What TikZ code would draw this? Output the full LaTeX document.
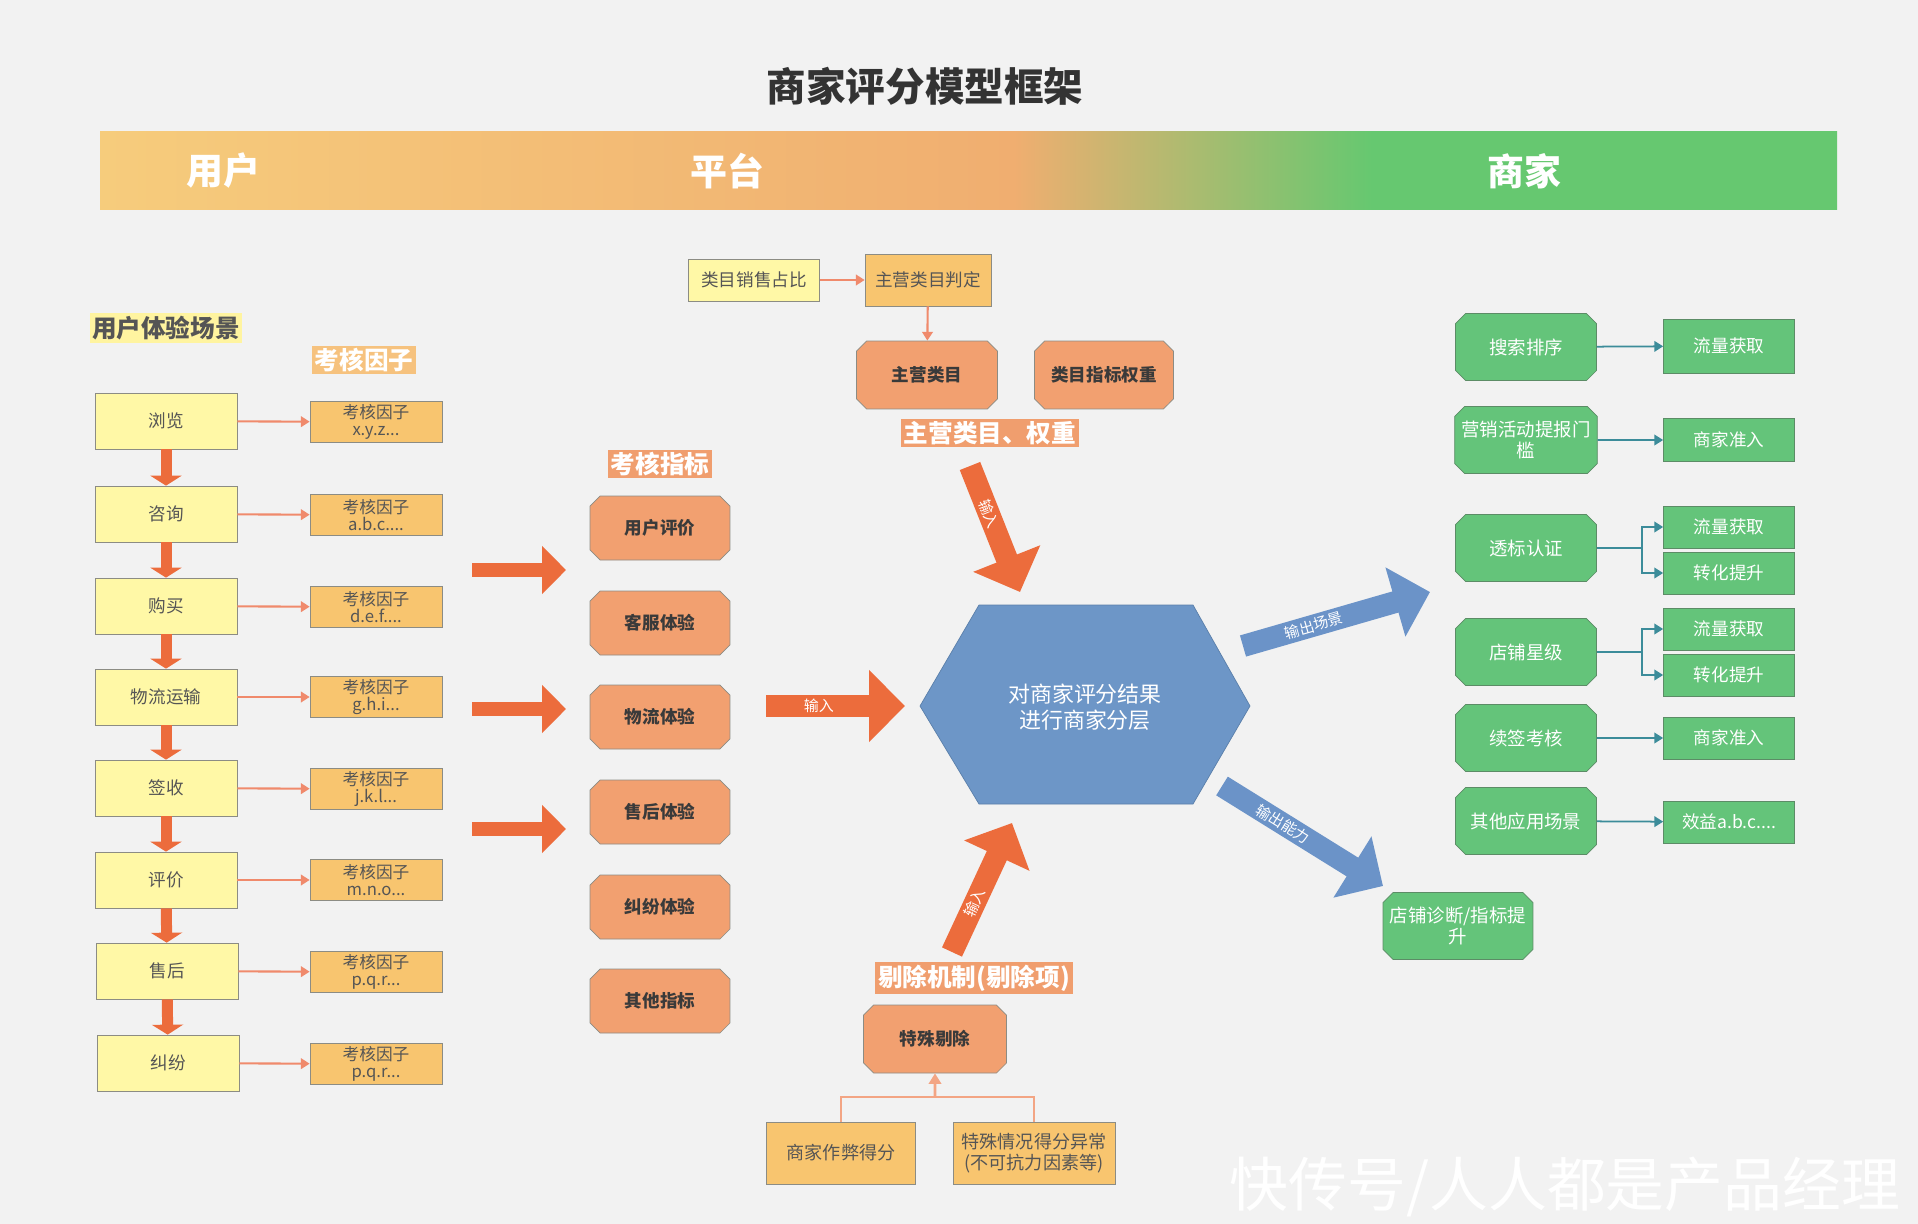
\documentclass[tikz,border=0pt]{standalone}
\usepackage{fontspec}
\setmainfont{Noto Sans CJK SC}
\usetikzlibrary{arrows.meta,shapes.misc}

\definecolor{bgc}{HTML}{F2F2F2}
\definecolor{titlec}{HTML}{333333}
\definecolor{txtc}{HTML}{555555}
\definecolor{darkc}{HTML}{3A3A3A}
\definecolor{edgec}{HTML}{8C8C84}
\definecolor{yelc}{HTML}{FFF8A6}
\definecolor{ambc}{HTML}{F8C56F}
\definecolor{salc}{HTML}{F2A070}
\definecolor{tagy}{HTML}{FFF4A0}
\definecolor{tago}{HTML}{F6C27E}
\definecolor{tags}{HTML}{F09E6E}
\definecolor{arrc}{HTML}{EC6C3C}
\definecolor{linkc}{HTML}{F08A6C}
\definecolor{treec}{HTML}{F3A584}
\definecolor{grnc}{HTML}{64C47A}
\definecolor{gedgec}{HTML}{5C8C66}
\definecolor{tealc}{HTML}{3C8C9A}
\definecolor{bluec}{HTML}{6D96C7}
\definecolor{bedgec}{HTML}{5A7FAA}
\definecolor{barc}{HTML}{6B93C8}
\definecolor{ban1}{HTML}{F6CC7C}
\definecolor{ban2}{HTML}{F0AE70}
\definecolor{ban3}{HTML}{66C870}
\pgfdeclarehorizontalshading{bannershade}{100bp}{color(0bp)=(ban1); color(25bp)=(ban1); color(51.3bp)=(ban2); color(61.6bp)=(ban3); color(75bp)=(ban3); color(100bp)=(ban3)}

\begin{document}
\begin{tikzpicture}[x=0.02cm, y=-0.02cm,
  scene/.style={draw=edgec, fill=yelc, text=txtc, minimum width=2.84cm, minimum height=1.12cm, font=\fontsize{10}{12}\selectfont},
  factor/.style={draw=edgec, fill=ambc, text=txtc, minimum width=2.64cm, minimum height=0.82cm, inner sep=1pt, align=center, font=\fontsize{9.5}{9.5}\selectfont},
  metric/.style={chamfered rectangle, chamfered rectangle sep=0.1cm, draw=edgec, fill=salc, text=darkc, minimum width=2.8cm, minimum height=1.28cm, font=\bfseries\fontsize{10}{12}\selectfont},
  merch/.style={chamfered rectangle, chamfered rectangle sep=0.1cm, draw=gedgec, fill=grnc, text=white, minimum width=2.82cm, minimum height=1.34cm, inner sep=1pt, align=center, font=\fontsize{10.5}{12}\selectfont},
  gain/.style={draw=gedgec, fill=grnc, text=white, minimum width=2.62cm, minimum height=0.84cm, font=\fontsize{10}{12}\selectfont},
  tag/.style={text=white, inner sep=1.5pt, font=\bfseries\fontsize{14}{16}\selectfont},
  link/.style={draw=linkc, line width=1.2pt, -{Triangle[width=6pt,length=5pt]}},
  tlink/.style={draw=tealc, line width=1pt, -{Triangle[width=6pt,length=5pt]}},
  flowdn/.style={draw=arrc, line width=0.22cm, -{Triangle[width=0.62cm,length=0.2cm]}},
  fat/.style={draw=arrc, line width=0.28cm, -{Triangle[width=0.94cm,length=0.48cm]}},
  block/.style={line width=0.44cm, -{Triangle[width=1.4cm,length=0.72cm]}},
  blabel/.style={pos=0.38, sloped, text=white, font=\fontsize{8.5}{10}\selectfont}]

  % Background and banner
  \fill[bgc] (0,0) rectangle (1918,1224);
  \shade[shading=bannershade] (100,131) rectangle (1837,209);
  \node[text=titlec, font=\bfseries\fontsize{22.5}{26}\selectfont] (title) at (925,86) {商家评分模型框架};
  \node[text=white, font=\bfseries\fontsize{21}{24}\selectfont] (user) at (223,171) {用户};
  \node[text=white, font=\bfseries\fontsize{21}{24}\selectfont] (platform) at (727,171) {平台};
  \node[text=white, font=\bfseries\fontsize{21}{24}\selectfont] (seller) at (1524,171) {商家};

  % User scenes
  \node[tag, fill=tagy, text=txtc] (scenetag) at (166,328) {用户体验场景};
  \node[tag, fill=tago] (factortag) at (364,360) {考核因子};
  \node[scene] (s1) at (166,421) {浏览};
  \node[scene] (s2) at (166,514) {咨询};
  \node[scene] (s3) at (166,606) {购买};
  \node[scene] (s4) at (166,697) {物流运输};
  \node[scene] (s5) at (166,788) {签收};
  \node[scene] (s6) at (166,880) {评价};
  \node[scene] (s7) at (167,971) {售后};
  \node[scene] (s8) at (168,1063) {纠纷};
  \node[factor] (f1) at (376,422) {考核因子\\x.y.z...};
  \node[factor] (f2) at (376,515) {考核因子\\a.b.c....};
  \node[factor] (f3) at (376,607) {考核因子\\d.e.f....};
  \node[factor] (f4) at (376,697) {考核因子\\g.h.i...};
  \node[factor] (f5) at (376,789) {考核因子\\j.k.l...};
  \node[factor] (f6) at (376,880) {考核因子\\m.n.o...};
  \node[factor] (f7) at (376,972) {考核因子\\p.q.r...};
  \node[factor] (f8) at (376,1064) {考核因子\\p.q.r...};

  \draw[flowdn] (s1) -- (s2);
  \draw[flowdn] (s2) -- (s3);
  \draw[flowdn] (s3) -- (s4);
  \draw[flowdn] (s4) -- (s5);
  \draw[flowdn] (s5) -- (s6);
  \draw[flowdn] (s6) -- (s7);
  \draw[flowdn] (s7) -- (s8);
  \draw[link] (s1) -- (f1);
  \draw[link] (s2) -- (f2);
  \draw[link] (s3) -- (f3);
  \draw[link] (s4) -- (f4);
  \draw[link] (s5) -- (f5);
  \draw[link] (s6) -- (f6);
  \draw[link] (s7) -- (f7);
  \draw[link] (s8) -- (f8);

  \coordinate (a1s) at (472,570); \coordinate (a1e) at (566,570);
  \coordinate (a2s) at (472,709); \coordinate (a2e) at (566,709);
  \coordinate (a3s) at (472,829); \coordinate (a3e) at (566,829);
  \draw[fat] (a1s) -- (a1e);
  \draw[fat] (a2s) -- (a2e);
  \draw[fat] (a3s) -- (a3e);

  % Metrics
  \node[tag, fill=tags] (metrictag) at (660,464) {考核指标};
  \node[metric] (m1) at (660,528) {用户评价};
  \node[metric] (m2) at (660,623) {客服体验};
  \node[metric] (m3) at (660,717) {物流体验};
  \node[metric] (m4) at (660,812) {售后体验};
  \node[metric] (m5) at (660,907) {纠纷体验};
  \node[metric] (m6) at (660,1001) {其他指标};

  % Category
  \node[scene, minimum width=2.62cm, minimum height=0.84cm] (share) at (754,280) {类目销售占比};
  \node[factor, minimum width=2.52cm, minimum height=1.04cm, font=\fontsize{10}{12}\selectfont] (judge) at (928,280) {主营类目判定};
  \node[metric, minimum width=2.82cm, minimum height=1.36cm] (main) at (927,375) {主营类目};
  \node[metric, minimum width=2.78cm, minimum height=1.36cm] (weight) at (1104,375) {类目指标权重};
  \node[tag, fill=tags] (weighttag) at (990,433) {主营类目、权重};
  \draw[link] (share) -- (judge);
  \draw[link] (judge) -- (main);

  % Core
  \filldraw[fill=bluec, draw=bedgec] (920,706) -- (979,605) -- (1193,605) -- (1250,706) -- (1193,804) -- (979,804) -- cycle;
  \node[text=white, align=center, font=\fontsize{12.5}{15}\selectfont] (core) at (1085,707) {对商家评分结果\\进行商家分层};

  \coordinate (ins) at (766,706); \coordinate (ine) at (905,706);
  \coordinate (tops) at (970,466); \coordinate (tope) at (1020,592);
  \coordinate (bots) at (952,952); \coordinate (bote) at (1012,823);
  \coordinate (o1s) at (1243,646); \coordinate (o1e) at (1430,592);
  \coordinate (o2s) at (1222,786); \coordinate (o2e) at (1383,886);
  \draw[block, draw=arrc] (ins) -- node[blabel] {输入} (ine);
  \draw[block, draw=arrc] (tops) -- node[blabel] {输入} (tope);
  \draw[block, draw=arrc] (bots) -- node[blabel] {输入} (bote);
  \draw[block, draw=barc] (o1s) -- node[blabel] {输出场景} (o1e);
  \draw[block, draw=barc] (o2s) -- node[blabel] {输出能力} (o2e);

  % Elimination
  \node[tag, fill=tags] (droptag) at (974,978) {剔除机制(剔除项)};
  \node[metric, minimum width=2.86cm, minimum height=1.36cm] (drop) at (935,1039) {特殊剔除};
  \node[factor, minimum width=2.98cm, minimum height=1.24cm, font=\fontsize{10.3}{12}\selectfont] (cheat) at (841,1153) {商家作弊得分};
  \node[factor, minimum width=3.24cm, minimum height=1.24cm, font=\fontsize{10.3}{12}\selectfont] (special) at (1034,1153) {特殊情况得分异常\\(不可抗力因素等)};
  \coordinate (bus) at (935,1097);
  \draw[treec, line width=1.5pt] (cheat.north) |- (bus) -| (special.north);
  \draw[treec, line width=1.5pt, -{Triangle[width=7pt,length=6pt]}] (bus) -- (drop);

  % Merchant side
  \node[merch] (g1) at (1526,347) {搜索排序};
  \node[merch] (g2) at (1526,440) {营销活动提报门\\槛};
  \node[merch] (g3) at (1526,548) {透标认证};
  \node[merch] (g4) at (1526,652) {店铺星级};
  \node[merch] (g5) at (1526,738) {续签考核};
  \node[merch] (g6) at (1526,821) {其他应用场景};
  \node[merch, minimum width=2.86cm] (diag) at (1458,926) {店铺诊断/指标提\\升};
  \node[gain, minimum height=1.08cm] (r1) at (1729,346) {流量获取};
  \node[gain, minimum height=0.86cm] (r2) at (1729,440) {商家准入};
  \node[gain] (r3) at (1729,527) {流量获取};
  \node[gain] (r4) at (1729,573) {转化提升};
  \node[gain] (r5) at (1729,629) {流量获取};
  \node[gain] (r6) at (1729,675) {转化提升};
  \node[gain] (r7) at (1729,738) {商家准入};
  \node[gain] (r8) at (1729,822) {效益a.b.c....};
  \draw[tlink] (g1) -- (r1);
  \draw[tlink] (g2) -- (r2);
  \draw[tlink] (g3.east) -- ++(45,0) |- (r3.west);
  \draw[tlink] (g3.east) -- ++(45,0) |- (r4.west);
  \draw[tlink] (g4.east) -- ++(45,0) |- (r5.west);
  \draw[tlink] (g4.east) -- ++(45,0) |- (r6.west);
  \draw[tlink] (g5) -- (r7);
  \draw[tlink] (g6) -- (r8);

  \node[text=white, font=\fontsize{33.5}{34}\selectfont] (wm) at (1565,1187) {快传号/人人都是产品经理};
\end{tikzpicture}
\end{document}
